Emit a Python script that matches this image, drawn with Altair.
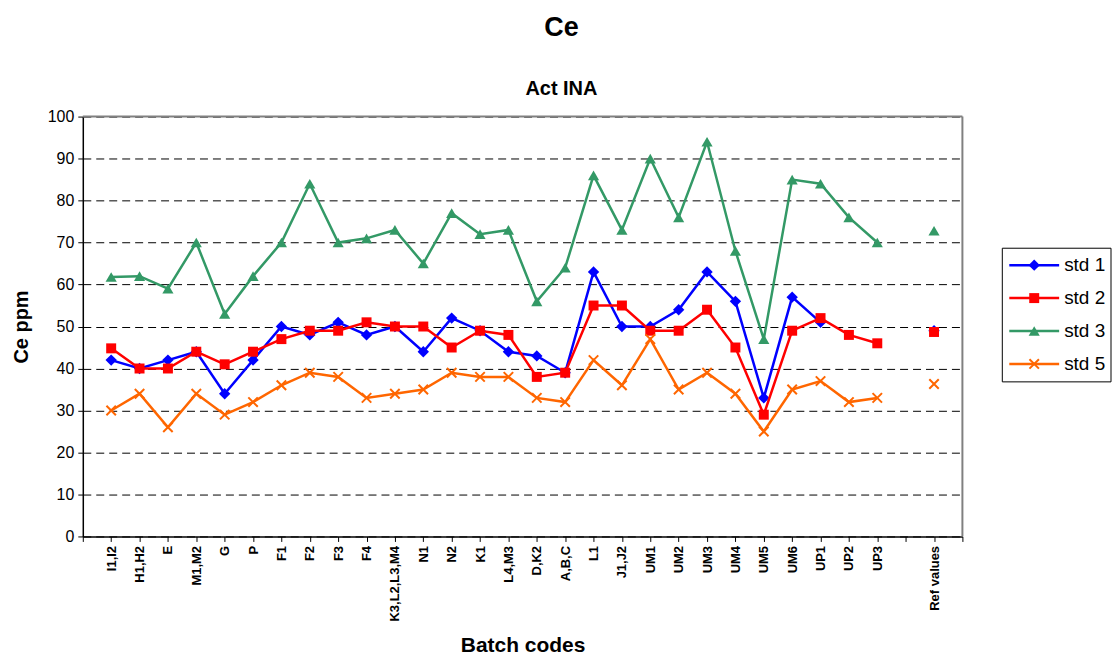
import json
import pandas as pd
import altair as alt

categories = ['I1,I2', 'H1,H2', 'E', 'M1,M2', 'G', 'P', 'F1', 'F2', 'F3', 'F4',
              'K3,L2,L3,M4', 'N1', 'N2', 'K1', 'L4,M3', 'D,K2', 'A,B,C', 'L1',
              'J1,J2', 'UM1', 'UM2', 'UM3', 'UM4', 'UM5', 'UM6', 'UP1', 'UP2',
              'UP3', '', 'Ref values']

series_names = ['std 1', 'std 2', 'std 3', 'std 5']

std1 = [42, 40, 42, 44, 34, 42, 50, 48, 51, 48, 50, 44, 52, 49, 44, 43, 39, 63,
        50, 50, 54, 63, 56, 33, 57, 51, None, None, None, 49]
std2 = [44.8, 40, 40, 44, 41, 44, 47, 49, 49, 51, 50, 50, 45, 49, 48, 38, 39, 55,
        55, 49, 49, 54, 45, 29, 49, 52, 48, 46, None, 48.7]
std3 = [61.8, 62, 59, 70, 53, 62, 70, 84, 70, 71, 73, 65, 77, 72, 73, 56, 64, 86,
        73, 90, 76, 94, 68, 47, 85, 84, 76, 70, None, 72.8]
std5 = [30, 34, 26, 34, 29, 32, 36, 39, 38, 33, 34, 35, 39, 38, 38, 33, 32, 42,
        36, 47, 35, 39, 34, 25, 35, 37, 32, 33, None, 36.3]

colors = ['#0000FF', '#FF0000', '#339966', '#FF6600']
X_PATH = 'M-1,-1L1,1M-1,1L1,-1'
shapes = ['diamond', 'square', 'triangle-up', X_PATH]
sizes = [130, 100, 125, 90]

rows = []
for name, vals in zip(series_names, [std1, std2, std3, std5]):
    for i, (c, v) in enumerate(zip(categories, vals)):
        rows.append({'series': name, 'pos': i + 1, 'cat': c, 'value': v})
df = pd.DataFrame(rows)

FONT = 'Liberation Sans'
W, H = 882, 421
tick_labels = [''] + categories + ['']

x_enc = alt.X(
    'pos:Q',
    scale=alt.Scale(domain=[0, len(categories) + 1], nice=False, zero=False),
    axis=alt.Axis(
        values=list(range(len(tick_labels))),
        labelExpr=f"{json.dumps(tick_labels)}[datum.value]",
        labelAngle=270, labelAlign='right', labelBaseline='middle',
        labelFont=FONT, labelFontSize=13, labelFontWeight='bold', labelColor='#000',
        labelPadding=4, labelOverlap=False, labelFlush=False, labelBound=False,
        tickSize=5, tickColor='#000', tickWidth=1,
        domainColor='#000', domainWidth=1.5, grid=False,
        title='Batch codes', titleFont=FONT, titleFontSize=21,
        titleFontWeight='bold', titleColor='#000', titlePadding=14,
    ),
)

y_enc = alt.Y(
    'value:Q',
    scale=alt.Scale(domain=[0, 100], nice=False, zero=True),
    axis=alt.Axis(
        values=list(range(0, 101, 10)),
        grid=True, gridColor='#000', gridDash=[8, 5], gridWidth=1,
        labelFont=FONT, labelFontSize=16, labelColor='#000', labelPadding=4,
        tickSize=5, tickColor='#000', domainColor='#000', domainWidth=1.5,
        title='Ce ppm', titleFont=FONT, titleFontSize=20, titleFontWeight='bold',
        titleColor='#000', titlePadding=16,
    ),
)

base = alt.Chart(df)
frame = alt.Chart(pd.DataFrame({'k': [0]}))

layers = []
layers.append(frame.mark_rule(color='#808080', strokeWidth=2).encode(
    x=alt.value(0), x2=alt.value(W), y=alt.value(0)))
layers.append(frame.mark_rule(color='#808080', strokeWidth=2).encode(
    x=alt.value(W), y=alt.value(0), y2=alt.value(H)))


def point_mark(chart, shp, col, size):
    if shp == X_PATH:
        return chart.mark_point(shape=shp, filled=False, color=col, size=size,
                                strokeWidth=2, opacity=1)
    return chart.mark_point(shape=shp, filled=True, color=col, size=size, opacity=1)


for name, col, shp, sz in zip(series_names, colors, shapes, sizes):
    d = base.transform_filter(alt.datum.series == name)
    layers.append(d.mark_line(color=col, strokeWidth=2.5).encode(x=x_enc, y=y_enc))
    layers.append(point_mark(d, shp, col, sz).encode(x=x_enc, y=y_enc))

# legend
LX0, LX1, LY0, LY1 = 922, 1031, 132, 266
layers.append(frame.mark_rect(fill='white', stroke='#000', strokeWidth=1).encode(
    x=alt.value(LX0), x2=alt.value(LX1), y=alt.value(LY0), y2=alt.value(LY1)))
for k, (name, col, shp, sz) in enumerate(zip(series_names, colors, shapes, sizes)):
    yy = 149 + 33 * k
    layers.append(frame.mark_rule(color=col, strokeWidth=2.5).encode(
        x=alt.value(929), x2=alt.value(979), y=alt.value(yy)))
    layers.append(point_mark(frame, shp, col, sz).encode(x=alt.value(954), y=alt.value(yy)))
    layers.append(frame.mark_text(text=name, align='left', baseline='middle', font=FONT,
                                  fontSize=19, color='#000').encode(
        x=alt.value(984), y=alt.value(yy)))

chart = alt.layer(*layers).properties(
    width=W, height=H,
    padding={'left': 3, 'top': 5, 'right': 0, 'bottom': 0},
    title=alt.TitleParams(
        text='Ce', subtitle='Act INA', font=FONT, fontSize=27, fontWeight='bold',
        color='#000', subtitleFont=FONT, subtitleFontSize=20,
        subtitleFontWeight='bold', subtitleColor='#000', subtitlePadding=37,
        offset=9, anchor='middle', frame='bounds'),
).configure_view(stroke=None)

chart.save('out.html', embed_options={'renderer': 'svg', 'actions': False})
